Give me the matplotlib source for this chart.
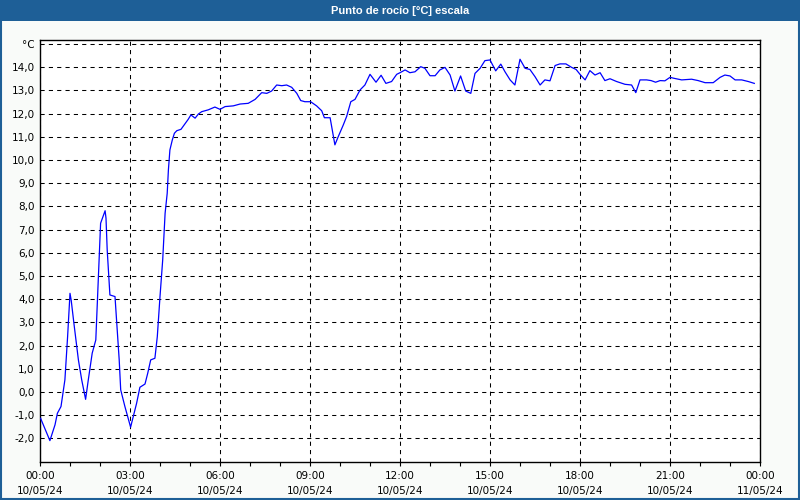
import matplotlib.pyplot as plt
from matplotlib.patches import Rectangle
import numpy as np

# Dew point readings, 10/05/24 (hours since midnight, degC)
hours = [0.02, 0.33, 0.5, 0.58, 0.7, 0.83, 0.92, 1.0, 1.04, 1.13, 1.28, 1.39, 1.52, 1.61,
         1.74, 1.86, 1.91, 1.97, 2.02, 2.17, 2.2, 2.24, 2.33, 2.5, 2.56, 2.64, 2.69, 2.83,
         3.02, 3.11, 3.22, 3.33, 3.5, 3.59, 3.69, 3.83, 3.91, 4.0, 4.09, 4.17, 4.24, 4.28,
         4.33, 4.41, 4.48, 4.56, 4.7, 4.83, 4.94, 5.03, 5.17, 5.28, 5.39, 5.61, 5.83, 6.0,
         6.17, 6.44, 6.67, 6.94, 7.17, 7.39, 7.56, 7.72, 7.89, 8.06, 8.22, 8.39, 8.56, 8.69,
         8.83, 9.02, 9.22, 9.39, 9.48, 9.67, 9.83, 9.94, 10.11, 10.22, 10.36, 10.5, 10.67,
         10.83, 11.0, 11.2, 11.37, 11.53, 11.72, 11.89, 12.0, 12.17, 12.33, 12.5, 12.69,
         12.83, 13.0, 13.17, 13.33, 13.5, 13.67, 13.83, 14.02, 14.19, 14.36, 14.5, 14.67,
         14.83, 15.0, 15.19, 15.36, 15.5, 15.67, 15.83, 16.0, 16.17, 16.33, 16.5, 16.67,
         16.83, 17.0, 17.17, 17.33, 17.53, 17.72, 17.87, 18.0, 18.17, 18.33, 18.5, 18.67,
         18.83, 19.0, 19.22, 19.5, 19.72, 19.86, 20.0, 20.22, 20.37, 20.52, 20.67, 20.83,
         21.0, 21.13, 21.39, 21.72, 21.94, 22.17, 22.44, 22.67, 22.83, 23.0, 23.17, 23.39,
         23.61, 23.81]
dew_point = [-1.14, -2.10, -1.42, -0.92, -0.63, 0.52, 2.38, 4.25, 3.95, 2.96, 1.38, 0.52, -0.32, 0.52,
             1.67, 2.24, 3.82, 5.69, 7.27, 7.81, 7.49, 6.12, 4.18, 4.11, 2.96, 1.38, 0.09, -0.63,
             -1.52, -1.06, -0.49, 0.2, 0.34, 0.8, 1.38, 1.45, 2.38, 4.11, 5.69, 7.70, 8.56, 9.57,
             10.43, 10.86, 11.15, 11.26, 11.32, 11.55, 11.75, 11.94, 11.8, 11.98, 12.08, 12.16, 12.28, 12.18,
             12.3, 12.33, 12.41, 12.44, 12.61, 12.9, 12.87, 12.97, 13.23, 13.2, 13.23, 13.13, 12.87, 12.56,
             12.51, 12.51, 12.33, 12.12, 11.82, 11.82, 10.65, 11.0, 11.51, 11.87, 12.51, 12.61, 13.02,
             13.23, 13.69, 13.35, 13.65, 13.3, 13.38, 13.69, 13.76, 13.88, 13.76, 13.8, 14.02,
             13.95, 13.63, 13.63, 13.88, 13.99, 13.66, 12.97, 13.62, 12.97, 12.87, 13.73, 13.95,
             14.28, 14.31, 13.84, 14.13, 13.8, 13.45, 13.23, 14.34, 13.95, 13.9, 13.59, 13.23,
             13.45, 13.41, 14.07, 14.14, 14.14, 13.99, 13.9, 13.69, 13.45, 13.85, 13.66, 13.76,
             13.42, 13.5, 13.38, 13.26, 13.23, 12.9, 13.45, 13.45, 13.42, 13.35, 13.42, 13.41,
             13.56, 13.52, 13.45, 13.48, 13.42, 13.33, 13.33, 13.56, 13.66, 13.62, 13.45, 13.45,
             13.38, 13.3]

x_ticks = [0, 3, 6, 9, 12, 15, 18, 21, 24]
x_labels = ['00:00\n10/05/24', '03:00\n10/05/24', '06:00\n10/05/24', '09:00\n10/05/24',
            '12:00\n10/05/24', '15:00\n10/05/24', '18:00\n10/05/24', '21:00\n10/05/24',
            '00:00\n11/05/24']
y_ticks = list(range(-2, 16))
y_labels = [f'{v},0' for v in range(-2, 15)] + ['°C']

title = 'Punto de rocío [°C] escala'

plt.rcParams['font.family'] = ['DejaVu Sans']

fig = plt.figure(figsize=(8, 5), dpi=100, facecolor='#f9fbf9')
ax = fig.add_axes([0.05, 0.077, 0.90, 0.843])
ax.set_facecolor('white')

# title bar and blue window border
blue = '#1e5f97'
fig.patches.append(Rectangle((0, 0.958), 1, 0.042, transform=fig.transFigure,
                             facecolor=blue, edgecolor='none', zorder=0))
fig.patches.append(Rectangle((0.001, 0.002), 0.998, 0.996, transform=fig.transFigure,
                             facecolor='none', edgecolor=blue, linewidth=1.5, zorder=0))
fig.text(0.5, 0.979, title, color='white', fontsize=8, fontweight='bold',
         family=['Liberation Sans', 'DejaVu Sans'], ha='center', va='center')

ax.plot(hours, dew_point, color='#0000ff', linewidth=0.9, zorder=3)

ax.set_xlim(0, 24)
ax.set_ylim(-3, 15.17)

ax.set_xticks(x_ticks)
ax.set_xticklabels(x_labels, fontsize=7.5, linespacing=1.6)
ax.set_xticks(np.arange(0, 25, 1), minor=True)
ax.set_yticks(y_ticks)
ax.set_yticklabels(y_labels, fontsize=7.5)

ax.tick_params(axis='x', which='both', direction='out', length=3, width=0.8, pad=4)
ax.tick_params(axis='y', length=0, pad=4)

ax.grid(True, which='major', color='black', linestyle=(0, (4, 4)), linewidth=0.75)

for s in ax.spines.values():
    s.set_linewidth(1)
    s.set_color('black')

plt.savefig('out.png', dpi=100, facecolor=fig.get_facecolor())
